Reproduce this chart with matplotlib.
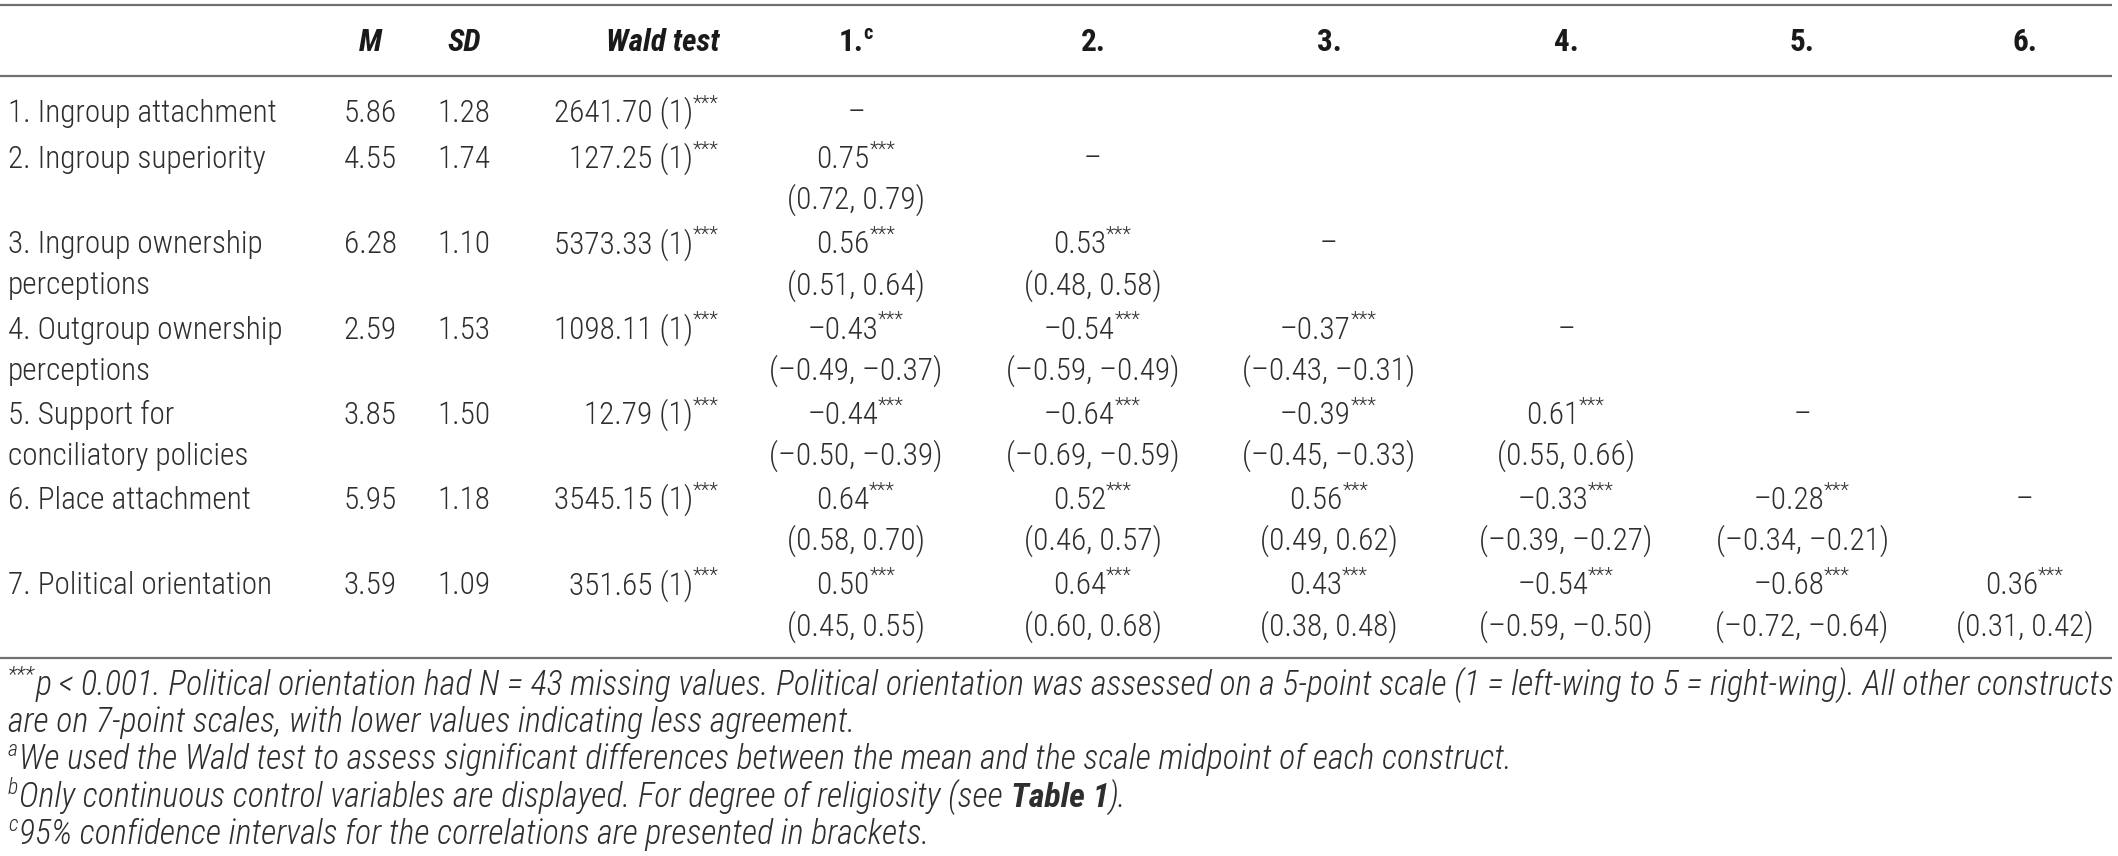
import matplotlib
matplotlib.use("Agg")
import matplotlib.pyplot as plt
from matplotlib import font_manager as fm

# table contents
labels = [["1. Ingroup attachment"],
          ["2. Ingroup superiority"],
          ["3. Ingroup ownership", "perceptions"],
          ["4. Outgroup ownership", "perceptions"],
          ["5. Support for", "conciliatory policies"],
          ["6. Place attachment"],
          ["7. Political orientation"]]
means = [5.86, 4.55, 6.28, 2.59, 3.85, 5.95, 3.59]
sds = [1.28, 1.74, 1.10, 1.53, 1.50, 1.18, 1.09]
wald = [2641.70, 127.25, 5373.33, 1098.11, 12.79, 3545.15, 351.65]
wald_df = [1, 1, 1, 1, 1, 1, 1]

# lower triangle of correlations (row i holds r with constructs 1..i-1)
corr = [[],
        [0.75],
        [0.56, 0.53],
        [-0.43, -0.54, -0.37],
        [-0.44, -0.64, -0.39, 0.61],
        [0.64, 0.52, 0.56, -0.33, -0.28],
        [0.50, 0.64, 0.43, -0.54, -0.68, 0.36]]
ci_low = [[],
          [0.72],
          [0.51, 0.48],
          [-0.49, -0.59, -0.43],
          [-0.50, -0.69, -0.45, 0.55],
          [0.58, 0.46, 0.49, -0.39, -0.34],
          [0.45, 0.60, 0.38, -0.59, -0.72, 0.31]]
ci_high = [[],
           [0.79],
           [0.64, 0.58],
           [-0.37, -0.49, -0.31],
           [-0.39, -0.59, -0.33, 0.66],
           [0.70, 0.57, 0.62, -0.27, -0.21],
           [0.55, 0.68, 0.48, -0.50, -0.64, 0.42]]
col_heads = ["1.", "2.", "3.", "4.", "5.", "6."]

footnotes = [
    [("***", "sup"), ("p < 0.001. Political orientation had N = 43 missing values. Political orientation "
                      "was assessed on a 5-point scale (1 = left-wing to 5 = right-wing). All other constructs", "")],
    [("are on 7-point scales, with lower values indicating less agreement.", "")],
    [("a", "sup"), ("We used the Wald test to assess significant differences between the mean and "
                    "the scale midpoint of each construct.", "")],
    [("b", "sup"), ("Only continuous control variables are displayed. For degree of religiosity (see", ""),
     ("", "space"), ("Table 1", "bi"), (").", "")],
    [("c", "sup"), ("95% confidence intervals for the correlations are presented in brackets.", "")],
]

# pick a narrow sans if one is installed (the original uses a condensed face)
entries = fm.fontManager.ttflist
names = {f.name for f in entries}
FAMILY, STRETCH = "Liberation Sans", "normal"
for cand in ["Roboto Condensed", "Liberation Sans Narrow", "Noto Sans Condensed",
             "Open Sans Condensed", "Arial Narrow", "Nimbus Sans Narrow"]:
    if cand in names:
        FAMILY = cand
        break
else:
    for fam in ["Noto Sans", "DejaVu Sans", "Open Sans", "Roboto"]:
        if any(f.name == fam and "condensed" in str(f.stretch) for f in entries):
            FAMILY, STRETCH = fam, "condensed"
            break
FONT = [FAMILY, "DejaVu Sans"]
LIGHT = "light"

BODY = "#2e2e2e"
HEAD = "#1a1a1a"

fig = plt.figure(figsize=(21.18, 8.56), dpi=100)
ax = fig.add_axes([0, 0, 1, 1])
ax.set_xlim(0, 2118)
ax.set_ylim(856, 0)
ax.axis("off")
rend = fig.canvas.get_renderer()


def fmt(v):
    return f"{v:.2f}".replace("-", "\u2013")


def runs(x, y, parts, ha="left", size=20, color=BODY, style="normal", weight=LIGHT):
    # parts: (text, kind) with kind in "", "sup", "space", "bi"
    arts = []
    cur = x
    for txt, kind in parts:
        if kind == "space":
            a = ax.text(cur, y, "x x", fontsize=size, family=FONT, stretch=STRETCH, style=style)
            b = ax.text(cur, y, "xx", fontsize=size, family=FONT, stretch=STRETCH, style=style)
            w = a.get_window_extent(rend).width - b.get_window_extent(rend).width
            a.remove(); b.remove()
            cur += w
            continue
        fs = size * 0.64 if kind == "sup" else size
        dy = -size * 0.55 if kind == "sup" else 0
        st = "normal" if kind == "sup" and style == "normal" else style
        wt = "bold" if kind == "bi" else weight
        t = ax.text(cur, y + dy, txt, fontsize=fs, family=FONT, stretch=STRETCH, style=st,
                    weight=wt, color=color, va="baseline", ha="left")
        cur += t.get_window_extent(rend).width + (1 if kind == "sup" else 0)
        arts.append(t)
    total = cur - x
    shift = {"left": 0, "center": -total / 2, "right": -total}[ha]
    for t in arts:
        px, py = t.get_position()
        t.set_x(px + shift)
    return arts, total


def width_of(parts, **kw):
    arts, w = runs(0, -100, parts, **kw)
    for t in arts:
        t.remove()
    return w


# body size: as in the original, but keep the widest label clear of the M column
FS = 22.5
wl = width_of([("4. Outgroup ownership", "")], size=FS)
if wl > 300:
    FS = FS * 300 / wl
# footnote size: first line runs to the right edge
FN = 20.0
wf = width_of(footnotes[0], size=FN, style="italic")
FN = FN * 2104 / wf

# rules
for yl in [5, 76, 658]:
    ax.plot([0, 2112], [yl, yl], color="#707070", lw=1.6, solid_capstyle="butt")

x_label = 8
x_m, x_sd, x_wald = 370, 464, 720
x_cols = [856, 1093, 1329, 1566, 1802, 2025]

# header
hy = 41 + 10
runs(x_m, hy, [("M", "")], ha="center", size=FS, color=HEAD, style="italic", weight="bold")
runs(x_sd, hy, [("SD", "")], ha="center", size=FS, color=HEAD, style="italic", weight="bold")
runs(x_wald, hy, [("Wald test", "")], ha="right", size=FS, color=HEAD, style="italic", weight="bold")
for j, h in enumerate(col_heads):
    parts = [(h, "")]
    if j == 0:
        parts.append(("c", "sup"))
    runs(x_cols[j], hy, parts, ha="center", size=FS, color=HEAD, weight="bold")

# body rows
row_y = [112]
for k in range(1, len(labels)):
    row_y.append(row_y[-1] + (46 if k == 1 else 85.3))
line2 = 41

for i, lab in enumerate(labels):
    base = row_y[i] + 10
    for li, s in enumerate(lab):
        runs(x_label, base + li * line2, [(s, "")], size=FS)
    runs(x_m, base, [(f"{means[i]:.2f}", "")], ha="center", size=FS)
    runs(x_sd, base, [(f"{sds[i]:.2f}", "")], ha="center", size=FS)
    runs(x_wald, base, [(f"{wald[i]:.2f} ({wald_df[i]})", ""), ("***", "sup")], ha="right", size=FS)
    for j in range(len(corr[i])):
        runs(x_cols[j], base, [(fmt(corr[i][j]), ""), ("***", "sup")], ha="center", size=FS)
        runs(x_cols[j], base + line2,
             [(f"({fmt(ci_low[i][j])}, {fmt(ci_high[i][j])})", "")], ha="center", size=FS)
    if i < len(x_cols):
        runs(x_cols[i], base, [("\u2013", "")], ha="center", size=FS)

# footnotes
fy = [686, 723, 760, 798, 835]
for k, parts in enumerate(footnotes):
    runs(8, fy[k] + 9, parts, size=FN, style="italic")

fig.savefig("out.png", dpi=100)
